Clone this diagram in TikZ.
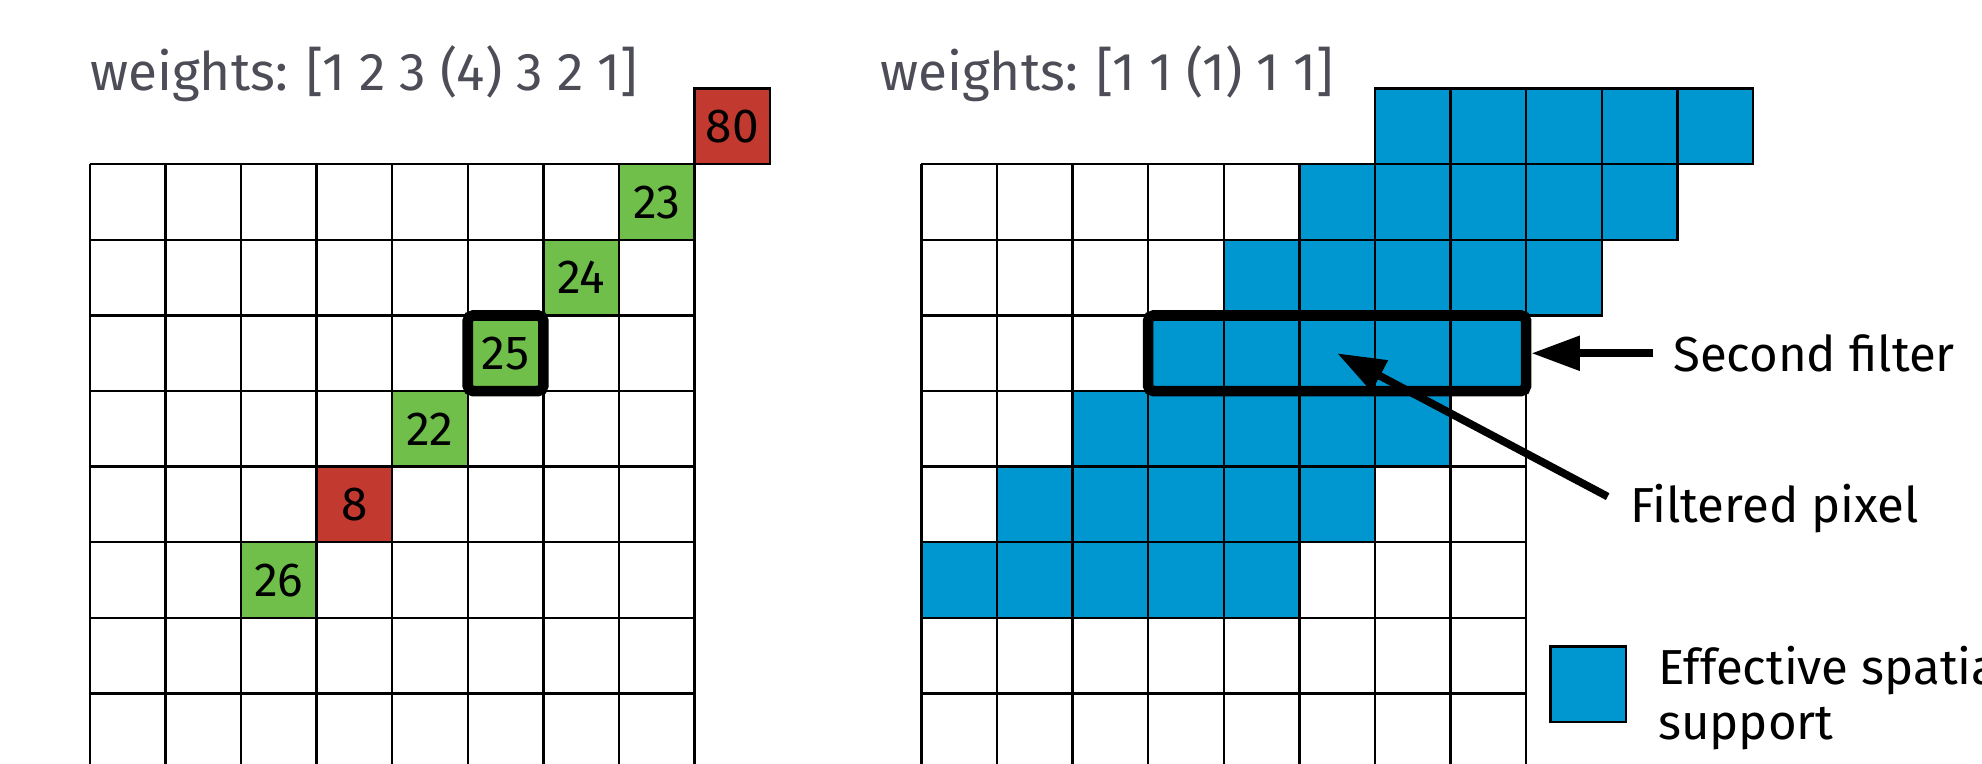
\documentclass[tikz,border=0pt]{standalone}
\usepackage{fontspec}
\setmainfont{Fira Sans}
\usetikzlibrary{arrows.meta}
\definecolor{cellgreen}{HTML}{70BF4B}
\definecolor{cellred}{HTML}{C1392F}
\definecolor{supportblue}{HTML}{0097D1}
\definecolor{titlegray}{HTML}{4D4D57}

\begin{document}
\begin{tikzpicture}[x=1cm, y=1cm,
    cell/.style = {draw, line width=0.9pt, minimum size=1cm, inner sep=0pt, font=\fontsize{18}{18}\selectfont},
    goodcell/.style = {cell, fill=cellgreen},
    badcell/.style = {cell, fill=cellred},
    supportcell/.style = {cell, fill=supportblue},
    filterbox/.style = {draw, line width=4pt, rounded corners=2pt, inner sep=0pt},
    weights/.style = {text=titlegray, font=\fontsize{20}{24}\selectfont, anchor=base west, inner sep=0pt},
    callout/.style = {font=\fontsize{18.5}{20.5}\selectfont, anchor=west, inner sep=0pt, align=left},
    pointer/.style = {-{Triangle[length=0.64cm, width=0.44cm]}, line width=2.9pt}]
    \useasboundingbox (-1.187,-7.93) rectangle (25.03,2.173);
    \clip (-1.187,-7.93) rectangle (25.03,2.173);

    % first filter
    \node[weights] (w1) at (0,0.98) {weights: [1 2 3 (4) 3 2 1]};
    \draw[line width=0.9pt] (0,-8) grid (8,0);
    \foreach \val/\x/\y/\kind in {80/8/0/badcell, 23/7/-1/goodcell, 24/6/-2/goodcell,
        25/5/-3/goodcell, 22/4/-4/goodcell, 8/3/-5/badcell, 26/2/-6/goodcell}
        \node[\kind] (c\val) at (\x+0.5,\y+0.5) {\val};
    \node[filterbox, minimum size=1cm] (box1) at (c25) {};

    % second filter
    \node[weights] (w2) at (10.45,0.98) {weights: [1 1 (1) 1 1]};
    \draw[line width=0.9pt] (11,-8) grid (19,0);
    \foreach \k in {0,...,6}
        \foreach \c in {0,...,4}
            \node[supportcell] (s\k\c) at (17.5-\k+\c,0.5-\k) {};
    \node[filterbox, minimum width=5cm, minimum height=1cm] (box2) at (16.5,-2.5) {};
    \coordinate (fpix) at (s32);

    % labels
    \node[callout] (second) at (20.94,-2.5) {Second filter};
    \node[callout] (filtered) at (20.37,-4.55) {Filtered pixel};
    \path[pointer, shorten <=0.26cm] (second.west) edge (box2.east);
    \path[pointer, shorten <=0.33cm] (filtered.west) edge (fpix);

    % legend
    \node[supportcell] (legend) at (19.82,-6.88) {};
    \node[callout] (legendtext) at (20.74,-7.06) {Effective spatial\\support};
\end{tikzpicture}
\end{document}
